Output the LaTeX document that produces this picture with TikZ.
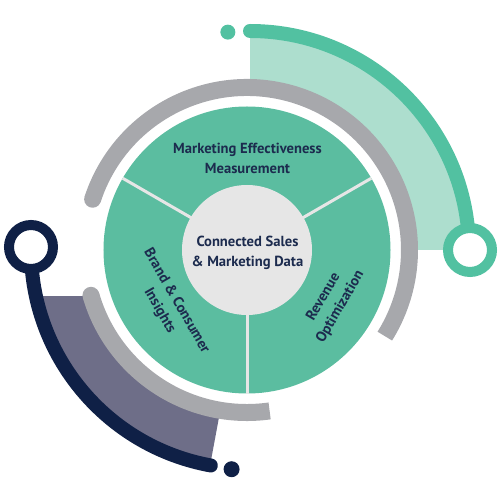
\documentclass[tikz,border=0pt]{standalone}
\usepackage{fontspec}
\setmainfont{PT Sans}
\usetikzlibrary{calc}
\definecolor{midgreen}{HTML}{5BBDA0}
\definecolor{arcgreen}{HTML}{52C1A1}
\definecolor{lightgreen}{HTML}{ADDECE}
\definecolor{ringgray}{HTML}{A7A8AC}
\definecolor{innergray}{HTML}{E6E6E6}
\definecolor{navy}{HTML}{0F2046}
\definecolor{dusk}{HTML}{6E6E88}
\definecolor{txt}{HTML}{1C2B4E}
\tikzset{
  grayband/.style={draw=ringgray, line width=17pt, line cap=butt},
  greenband/.style={draw=arcgreen, line width=14pt, line cap=round},
  navyband/.style={draw=navy, line width=14pt, line cap=round},
  ringshape/.style={line width=10pt, fill=white},
  divider/.style={draw=innergray, line width=3pt},
  label/.style={text=txt, font=\bfseries\fontsize{14.6}{19.5}\selectfont, align=center, inner sep=0pt}
}
\begin{document}
\begin{tikzpicture}[x=1pt,y=1pt]
\useasboundingbox (-250,-250) rectangle (250,250);
\coordinate (O) at (0,0);
\coordinate (C) at (-3,0);
% light green sector
\fill[lightgreen] (0:220) arc[start angle=0,end angle=90,radius=220] -- (90:160) arc[start angle=90,end angle=0,radius=160] -- cycle;
% dusk sector
\begin{scope}
\clip (-250,-47) rectangle (250,-250);
\fill[dusk] (180:220) arc[start angle=180,end angle=259.5,radius=220] -- (259.5:160) arc[start angle=259.5,end angle=180,radius=160] -- cycle;
\end{scope}
% gray arcs
\draw[grayband] ($(C)+(161.8:162.5)$) arc[start angle=161.8,end angle=-32,radius=162.5];
\fill[ringgray] ($(C)+(161.8:162.5)$) circle (8.5);
\draw[grayband] ($(C)+(196.2:162.5)$) arc[start angle=196.2,end angle=278,radius=162.5];
\fill[ringgray] ($(C)+(196.2:162.5)$) circle (8.5);
% green arc, ring, dot
\draw[greenband] (90:219) arc[start angle=90,end angle=0,radius=219];
\draw[ringshape, draw=arcgreen] (220,0) circle (22);
\fill[arcgreen] (95.8:219) circle (7.5);
% navy arc, ring, dot
\draw[navyband] (180:219) arc[start angle=180,end angle=259.7,radius=219];
\draw[ringshape, draw=navy] (-219,3) circle (22);
\fill[navy] (265.2:220) circle (8);
% main disc
\fill[midgreen] (C) circle (143.5);
\draw[divider] (C) -- ($(C)+(30:143.5)$);
\draw[divider] (C) -- ($(C)+(150:143.5)$);
\draw[divider] (C) -- ($(C)+(270:143.5)$);
\fill[innergray] (C) circle (65);
% labels
\node[label] (mem) at (-2.5,91.5) {Marketing Effectiveness\\Measurement};
\node[label] (csm) at (-2.5,-3) {Connected Sales\\\& Marketing Data};
\node[label, rotate=-60] (bci) at (-82,-56) {Brand \& Consumer\\Insights};
\node[label, rotate=60] (rev) at (82,-52) {Revenue\\Optimization};
\end{tikzpicture}
\end{document}
